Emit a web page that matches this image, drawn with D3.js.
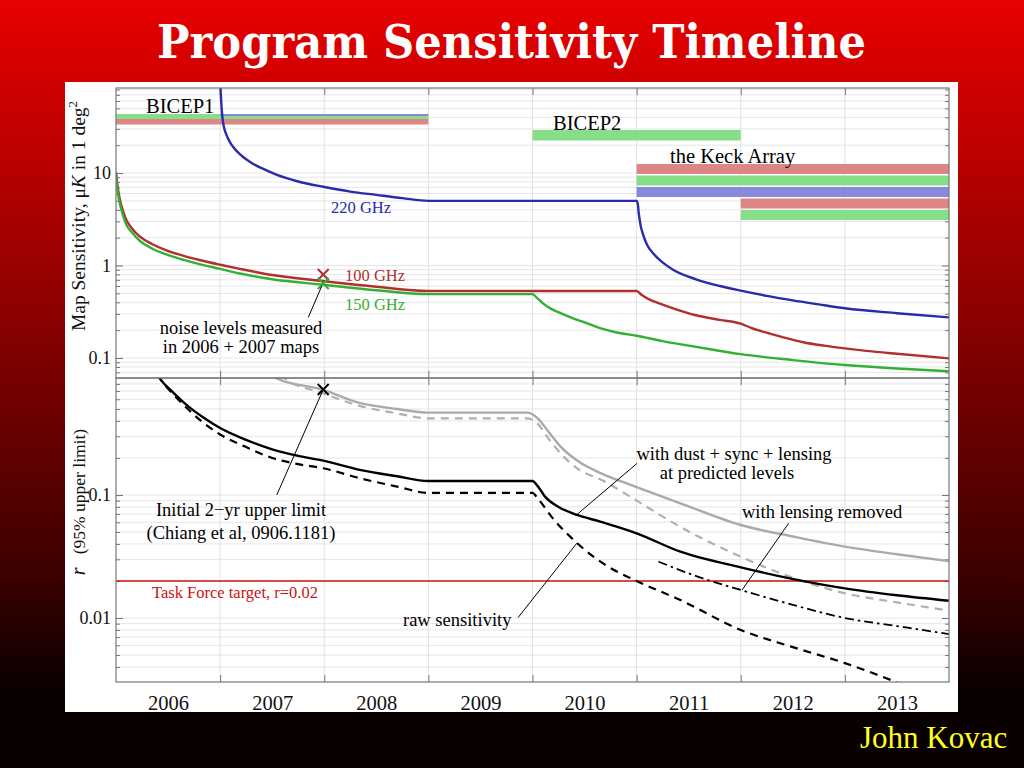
<!DOCTYPE html>
<html><head><meta charset="utf-8">
<script src="https://cdn.jsdelivr.net/npm/d3@7"></script>
<style>
html,body{margin:0;padding:0;background:#000;}
svg{display:block;}
text{font-family:"Liberation Serif","Times New Roman",serif;}
</style></head><body>
<svg id="c" width="1024" height="768"></svg>
<script>
// ---------------- DATA ----------------
const years = [2006, 2007, 2008, 2009, 2010, 2011, 2012, 2013];
const topTicks = [0.1, 1, 10];
const topTickLabels = ["0.1", "1", "10"];
const bottomTicks = [0.01, 0.1];
const bottomTickLabels = ["0.01", "0.1"];

// receiver bars (instrument, frequency, start, end)
const barGroups = ["BICEP1","BICEP1","BICEP1","BICEP2","Keck","Keck","Keck","Keck","Keck"];
const barFreqs  = [150, 220, 100, 150, 100, 150, 220, 100, 150];
const barStarts = [2006, 2007, 2006, 2010, 2011, 2011, 2011, 2012, 2012];
const barEnds   = [2009, 2009, 2009, 2012, 2014, 2014, 2014, 2014, 2014];
const barRows   = [0, 0, 1, 0, 0, 1, 2, 3, 4];
const groupNames = ["BICEP1", "BICEP2", "the Keck Array"];

// map sensitivity (uK in 1 deg^2) vs year
const sens100 = [[2006.00,10.2],[2006.01,8.0],[2006.02,6.6],[2006.04,5.0],[2006.07,3.8],[2006.10,3.1],[2006.15,2.55],[2006.23,2.05],[2006.35,1.7],[2006.49,1.45],[2006.65,1.27],[2006.81,1.14],[2007.0,1.02],[2007.19,0.92],[2007.5,0.79],[2007.99,0.68],[2008.5,0.59],[2009.0,0.53],[2011.0,0.53],[2011.05,0.48],[2011.12,0.43],[2011.23,0.385],[2011.4,0.33],[2011.57,0.29],[2011.8,0.258],[2012.0,0.235],[2012.1,0.212],[2012.23,0.19],[2012.4,0.168],[2012.6,0.148],[2012.8,0.136],[2013.0,0.127],[2013.5,0.111],[2014.0,0.099]];
const sens150 = [[2006.00,9.2],[2006.01,7.2],[2006.02,5.9],[2006.04,4.5],[2006.07,3.4],[2006.10,2.75],[2006.15,2.3],[2006.23,1.84],[2006.35,1.52],[2006.49,1.31],[2006.65,1.15],[2006.81,1.03],[2007.0,0.92],[2007.19,0.82],[2007.5,0.71],[2007.99,0.62],[2008.5,0.54],[2009.0,0.49],[2010.0,0.49],[2010.04,0.45],[2010.1,0.39],[2010.18,0.34],[2010.27,0.305],[2010.4,0.265],[2010.5,0.243],[2010.65,0.21],[2010.8,0.19],[2011.0,0.174],[2011.25,0.152],[2011.5,0.136],[2011.75,0.122],[2012.0,0.11],[2012.5,0.095],[2013.0,0.084],[2013.5,0.077],[2014.0,0.072]];
const sens220 = [[2007.003,83],[2007.01,60],[2007.02,42],[2007.035,32],[2007.06,26],[2007.09,22],[2007.12,19.5],[2007.2,15.6],[2007.31,12.7],[2007.42,11],[2007.54,9.6],[2007.75,8.1],[2007.99,7.1],[2008.25,6.3],[2008.5,5.8],[2008.75,5.35],[2009.0,5.0],[2011.0,5.0],[2011.012,4.6],[2011.02,3.7],[2011.03,3.1],[2011.04,2.65],[2011.06,2.2],[2011.1,1.68],[2011.16,1.35],[2011.24,1.1],[2011.35,0.9],[2011.57,0.71],[2011.8,0.6],[2012.0,0.535],[2012.25,0.47],[2012.5,0.42],[2012.75,0.38],[2013.0,0.345],[2013.5,0.305],[2014.0,0.275]];
const measured100 = [2007.99, 0.80];
const measured150 = [2007.99, 0.64];

// r (95% upper limit) vs year
const rFgSolid  = [[2006.40,0.95],[2006.42,0.89],[2006.55,0.68],[2006.7,0.52],[2006.85,0.42],[2007.0,0.35],[2007.25,0.28],[2007.5,0.235],[2007.75,0.208],[2007.99,0.19],[2008.34,0.16],[2008.7,0.142],[2009.0,0.13],[2010.0,0.13],[2010.05,0.118],[2010.12,0.097],[2010.25,0.08],[2010.43,0.0688],[2010.65,0.0607],[2011.0,0.0488],[2011.42,0.0346],[2012.0,0.0258],[2012.47,0.021],[2013.0,0.0174],[2013.5,0.0153],[2014.0,0.0138]];
const rRaw      = [[2006.40,0.95],[2006.42,0.89],[2006.55,0.66],[2006.7,0.49],[2006.85,0.38],[2007.0,0.31],[2007.25,0.245],[2007.5,0.2],[2007.75,0.178],[2007.99,0.165],[2008.34,0.137],[2008.7,0.117],[2009.0,0.104],[2010.0,0.104],[2010.05,0.094],[2010.18,0.067],[2010.43,0.0405],[2010.7,0.027],[2011.0,0.020],[2011.42,0.014],[2012.0,0.008],[2012.5,0.0058],[2013.0,0.0043],[2013.5,0.003]];
const rGraySolid = [[2007.50,0.95],[2007.54,0.89],[2007.99,0.715],[2008.34,0.56],[2008.7,0.5],[2009.0,0.467],[2009.95,0.467],[2010.05,0.42],[2010.15,0.33],[2010.27,0.247],[2010.45,0.185],[2010.66,0.15],[2011.0,0.116],[2011.42,0.0856],[2012.0,0.057],[2012.5,0.046],[2013.0,0.038],[2013.5,0.033],[2014.0,0.029]];
const rGrayDashed = [[2007.58,0.95],[2007.62,0.89],[2007.99,0.67],[2008.34,0.53],[2008.7,0.46],[2009.0,0.42],[2009.95,0.42],[2010.05,0.38],[2010.15,0.29],[2010.27,0.218],[2010.45,0.16],[2010.66,0.133],[2011.0,0.09],[2011.42,0.055],[2012.0,0.0315],[2012.47,0.0217],[2013.0,0.0159],[2013.5,0.0134],[2014.0,0.0115]];
const rDelensed = [[2011.21,0.0287],[2011.6,0.0215],[2012.0,0.0169],[2012.5,0.0128],[2013.0,0.010],[2013.5,0.0086],[2014.0,0.0074]];
const initialLimit = [2007.99, 0.72];
const taskForceTarget = 0.02;

// annotation leader lines (data coords: [from], [to])
const leaderNoise   = [[2007.976,0.60],[2007.847,0.275]];
const leaderInitial = [[2007.99,0.72],[2007.544,0.1]];
const leaderDust    = [[2011.005,0.181],[2010.415,0.068]];
const leaderRaw     = [[2009.862,0.0101],[2010.425,0.0405]];
const leaderLens    = [[2012.46,0.0589],[2012.013,0.0169]];

// ---------------- LAYOUT ----------------
const X0 = 116, X1 = 949, TY0 = 88, TY1 = 378, BY0 = 378, BY1 = 682;
const svg = d3.select("#c");
const defs = svg.append("defs");
const grad = defs.append("linearGradient").attr("id","bg").attr("x1",0).attr("y1",0).attr("x2",0).attr("y2",1);
grad.append("stop").attr("offset","0%").attr("stop-color","#e80000");
grad.append("stop").attr("offset","25%").attr("stop-color","#b00000");
grad.append("stop").attr("offset","50%").attr("stop-color","#760000");
grad.append("stop").attr("offset","75%").attr("stop-color","#3c0000");
grad.append("stop").attr("offset","90%").attr("stop-color","#0a0000");
grad.append("stop").attr("offset","100%").attr("stop-color","#080000");
svg.append("rect").attr("width",1024).attr("height",768).attr("fill","url(#bg)");
svg.append("rect").attr("x",65).attr("y",82).attr("width",893).attr("height",630).attr("fill","#fff");

svg.append("text").attr("x",511.5).attr("y",58).attr("text-anchor","middle")
  .attr("fill","#fff").attr("font-weight","bold").attr("font-size",46)
  .style("font-family","'DejaVu Serif',serif")
  .attr("textLength",709).attr("lengthAdjust","spacingAndGlyphs")
  .text("Program Sensitivity Timeline");
svg.append("text").attr("x",860).attr("y",748).attr("fill","#ffff20").attr("font-size",31)
  .text("John Kovac");

const x = d3.scaleLinear().domain([2006,2014]).range([X0,X1]);
const yT = d3.scaleLog().domain([0.0608, 83]).range([TY1, TY0]);
const yB = d3.scaleLog().domain([0.00302, 0.893]).range([BY1, BY0]);

function minorVals(dom){
  const out=[];
  for(let e=-4;e<=2;e++) for(let k=1;k<=9;k++){const v=k*Math.pow(10,e); if(v>=dom[0]&&v<=dom[1]) out.push(v);}
  return out;
}

function panel(y, y0, y1, ticks, tickLabels, id){
  const g = svg.append("g");
  defs.append("clipPath").attr("id",id).append("rect").attr("x",X0).attr("y",y0).attr("width",X1-X0).attr("height",y1-y0);
  const mv = minorVals(y.domain());
  g.append("g").selectAll("line").data(mv).join("line")
    .attr("x1",X0).attr("x2",X1).attr("y1",d=>y(d)).attr("y2",d=>y(d))
    .attr("stroke","#e6e6e6").attr("stroke-width",1);
  g.append("g").selectAll("line").data(years.slice(1)).join("line")
    .attr("x1",d=>x(d)).attr("x2",d=>x(d)).attr("y1",y0).attr("y2",y1)
    .attr("stroke","#e2e2e2").attr("stroke-width",1);
  const isMajor = d => ticks.some(t=>Math.abs(t-d)/t<1e-6);
  const gl = g.append("g").attr("transform",`translate(${X0},0)`).call(d3.axisLeft(y).tickValues(mv).tickFormat("").tickSizeOuter(0));
  gl.selectAll(".tick line").attr("x2",d=>isMajor(d)?7:4).attr("stroke","#777");
  gl.select(".domain").remove();
  const gr = g.append("g").attr("transform",`translate(${X1},0)`).call(d3.axisRight(y).tickValues(mv).tickFormat("").tickSizeOuter(0));
  gr.selectAll(".tick line").attr("x2",d=>isMajor(d)?-7:-4).attr("stroke","#777");
  gr.select(".domain").remove();
  const lab = g.append("g").attr("transform",`translate(${X0},0)`)
    .call(d3.axisLeft(y).tickValues(ticks).tickFormat((d,i)=>tickLabels[i]).tickSize(0).tickPadding(5));
  lab.select(".domain").remove();
  lab.selectAll("text").attr("font-size",18).attr("fill","#111").style("font-family","'Liberation Serif',serif");
  const gt = g.append("g").attr("transform",`translate(0,${y0})`).call(d3.axisTop(x).tickValues(years.slice(1)).tickFormat("").tickSizeOuter(0));
  gt.selectAll(".tick line").attr("y2",7).attr("stroke","#777"); gt.select(".domain").remove();
  const gb = g.append("g").attr("transform",`translate(0,${y1})`).call(d3.axisBottom(x).tickValues(years.slice(1)).tickFormat("").tickSizeOuter(0));
  gb.selectAll(".tick line").attr("y2",-7).attr("stroke","#777"); gb.select(".domain").remove();
  return g;
}

const gTop = panel(yT, TY0, TY1, topTicks, topTickLabels, "clipT");
const gBot = panel(yB, BY0, BY1, bottomTicks, bottomTickLabels, "clipB");

// ---------- top panel marks ----------
const freqFill = {100:"#dd8686", 150:"#88dd88", 220:"#8888dd"};
const freqStroke = {100:"#b03030", 150:"#33b033", 220:"#2a2aaa"};
const rowGeom = {
  BICEP1: {y: d3.scaleLinear().domain([0,1]).range([114,119]), h:5.5},
  BICEP2: {y: d3.scaleLinear().domain([0,1]).range([130,141]), h:10.5},
  Keck:   {y: d3.scaleLinear().domain([0,1]).range([164,175.5]), h:10}
};
const barsData = barGroups.map((gname,i)=>({g:gname,f:barFreqs[i],s:barStarts[i],e:barEnds[i],r:barRows[i]}));
const order = [0,2,1,3,4,5,6,7,8];
gTop.append("g").selectAll("rect").data(order.map(i=>barsData[i])).join("rect")
  .attr("x",d=>x(d.s)).attr("width",d=>x(d.e)-x(d.s))
  .attr("y",d=>rowGeom[d.g].y(d.r))
  .attr("height",d=>(d.g==="BICEP1"&&d.f===220)?2:rowGeom[d.g].h)
  .attr("fill",d=>freqFill[d.f]);

const lineT = d3.line().x(d=>x(d[0])).y(d=>yT(d[1])).curve(d3.curveMonotoneX);
const lineB = d3.line().x(d=>x(d[0])).y(d=>yB(d[1])).curve(d3.curveMonotoneX);
const ct = gTop.append("g").attr("clip-path","url(#clipT)");
[[sens220,220],[sens100,100],[sens150,150]].forEach(([s,f])=>{
  ct.append("path").datum(s).attr("d",lineT).attr("fill","none").attr("stroke",freqStroke[f]).attr("stroke-width",2.4);
});
function cross(g, cx, cy, col, r){
  g.append("path").attr("d",`M${cx-r},${cy-r}L${cx+r},${cy+r}M${cx-r},${cy+r}L${cx+r},${cy-r}`)
   .attr("stroke",col).attr("stroke-width",2).attr("fill","none");
}
cross(gTop, x(measured100[0]), yT(measured100[1]), "#b03030", 5.5);
cross(gTop, x(measured150[0]), yT(measured150[1]), "#33b033", 5.5);

const leaderT = d3.line().x(d=>x(d[0])).y(d=>yT(d[1]));
const leaderB = d3.line().x(d=>x(d[0])).y(d=>yB(d[1]));
gTop.append("path").datum(leaderNoise).attr("d",leaderT).attr("stroke","#000").attr("stroke-width",1).attr("fill","none");

function txt(g, xx, yy, s, size, col, anchor){
  return g.append("text").attr("x",xx).attr("y",yy).attr("font-size",size).attr("fill",col||"#000")
    .attr("text-anchor",anchor||"start").text(s);
}
txt(gTop, 146, 113, groupNames[0], 20.5);
txt(gTop, 553, 130, groupNames[1], 20.5);
txt(gTop, 670, 163, groupNames[2], 20.5);
txt(gTop, 331, 213, "220 GHz", 16.5, "#2a2aaa");
txt(gTop, 345, 281, "100 GHz", 16.5, "#b03030");
txt(gTop, 345, 310, "150 GHz", 16.5, "#33b033");
txt(gTop, 241, 334, "noise levels measured", 18.5, "#000", "middle");
txt(gTop, 241, 353, "in 2006 + 2007 maps", 18.5, "#000", "middle");

// ---------- bottom panel marks ----------
const cb = gBot.append("g").attr("clip-path","url(#clipB)");
cb.append("line").attr("x1",X0).attr("x2",X1).attr("y1",yB(taskForceTarget)).attr("y2",yB(taskForceTarget))
  .attr("stroke","#cc1111").attr("stroke-width",1.3);
cb.append("path").datum(rGraySolid).attr("d",lineB).attr("fill","none").attr("stroke","#aaaaaa").attr("stroke-width",2.4);
cb.append("path").datum(rGrayDashed).attr("d",lineB).attr("fill","none").attr("stroke","#b0b0b0").attr("stroke-width",2.2).attr("stroke-dasharray","8,6");
cb.append("path").datum(rFgSolid).attr("d",lineB).attr("fill","none").attr("stroke","#000").attr("stroke-width",2.4);
cb.append("path").datum(rRaw).attr("d",lineB).attr("fill","none").attr("stroke","#000").attr("stroke-width",2.2).attr("stroke-dasharray","8,6");
cb.append("path").datum(rDelensed).attr("d",lineB).attr("fill","none").attr("stroke","#000").attr("stroke-width",1.8).attr("stroke-dasharray","9,4,2.5,4");
cross(gBot, x(initialLimit[0]), yB(initialLimit[1]), "#000", 5.5);
[leaderInitial, leaderDust, leaderRaw, leaderLens].forEach(L=>{
  gBot.append("path").datum(L).attr("d",leaderB).attr("stroke","#000").attr("stroke-width",1).attr("fill","none");
});
txt(gBot, 241, 516, "Initial 2\u2212yr upper limit", 18.5, "#000", "middle");
txt(gBot, 241, 539, "(Chiang et al, 0906.1181)", 18.5, "#000", "middle");
txt(gBot, 152, 598, "Task Force target, r=0.02", 16.5, "#cc1111");
txt(gBot, 734, 460, "with dust + sync + lensing", 18.5, "#000", "middle");
txt(gBot, 727, 479, "at predicted levels", 18.5, "#000", "middle");
txt(gBot, 742, 518, "with lensing removed", 18.5);
txt(gBot, 403, 626, "raw sensitivity", 18.5);

// frames
[[TY0,TY1],[BY0,BY1]].forEach(([a,b])=>{
  svg.append("rect").attr("x",X0).attr("y",a).attr("width",X1-X0).attr("height",b-a)
    .attr("fill","none").attr("stroke","#777").attr("stroke-width",1.2);
});

// year labels
const ax = svg.append("g").attr("transform",`translate(0,${BY1})`)
  .call(d3.axisBottom(x).tickValues(years.map(d=>d+0.5)).tickFormat(d=>String(Math.floor(d))).tickSize(0).tickPadding(13));
ax.select(".domain").remove();
ax.selectAll("text").attr("font-size",20.5).attr("fill","#111").style("font-family","'Liberation Serif',serif");

// y axis titles
const t1 = svg.append("text").attr("transform","translate(85,216) rotate(-90)").attr("text-anchor","middle").attr("font-size",19.5).attr("fill","#111");
t1.append("tspan").text("Map Sensitivity, \u03bc");
t1.append("tspan").attr("font-style","italic").text("K");
t1.append("tspan").text("  in 1 deg");
t1.append("tspan").attr("dy",-8).attr("font-size",13).text("2");
const t2 = svg.append("text").attr("transform","translate(85,502) rotate(-90)").attr("text-anchor","middle").attr("font-size",17.5).attr("fill","#111");
t2.append("tspan").attr("font-style","italic").attr("font-size",20).text("r");
t2.append("tspan").text("\u00a0\u00a0\u00a0(95% upper limit)");
</script>
</body></html>
